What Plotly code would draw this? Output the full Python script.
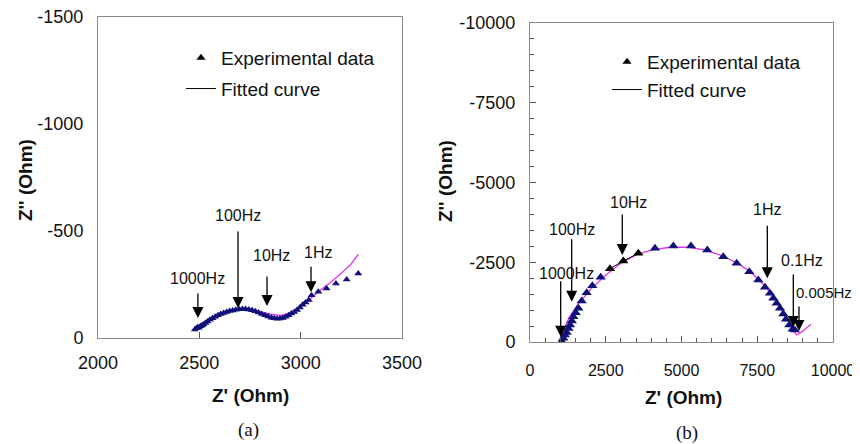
import plotly.graph_objects as go

# ---------------- Panel (a) data ----------------
a_exp_zr = [2478, 2485, 2492, 2498, 2505, 2512, 2520, 2530, 2540, 2552, 2565, 2578, 2592, 2606,
            2620, 2635, 2650, 2665, 2680, 2696, 2712, 2728, 2744, 2760, 2776, 2792, 2808, 2824,
            2840, 2856, 2870, 2884, 2898, 2912, 2926, 2940, 2954, 2968, 2982, 2996, 3010, 3024,
            3040, 3054, 3087, 3128, 3174, 3227, 3284]
a_exp_zi = [-40, -45, -50, -48, -55, -58, -63, -70, -77, -85, -92, -99, -106, -112,
            -117, -122, -126, -129, -132, -134, -135, -135, -133, -130, -125, -119, -112, -106,
            -100, -95, -92, -90, -91, -94, -99, -106, -114, -122, -131, -142, -155, -166,
            -178, -200, -216, -231, -255, -273, -301]
a_fit_zr = [2475, 2500, 2550, 2600, 2650, 2700, 2750, 2800, 2850, 2900, 2950, 3000, 3050,
            3100, 3150, 3200, 3250, 3285]
a_fit_zi = [-35, -52, -86, -112, -128, -135, -132, -123, -111, -106, -116, -145, -186,
            -225, -262, -302, -347, -392]
a_freq_labels = ["1000Hz", "100Hz", "10Hz", "1Hz"]
a_freq_zr = [2493, 2691, 2834, 3051]
a_freq_zi = [-93, -140, -149, -214]

# ---------------- Panel (b) data ----------------
b_exp_zr = [1050, 1100, 1150, 1210, 1270, 1320, 1380, 1430, 1510, 1595, 1705, 1870, 2057,
            2332, 4125, 4730, 5313, 5852, 6380, 6820, 7238, 7535, 7756, 7921, 8031, 8141,
            8251, 8360, 8449, 8559, 8669, 8740]
b_exp_zi = [-20, -120, -220, -300, -420, -530, -660, -790, -920, -1055, -1285, -1546, -1766,
            -2027, -2936, -3009, -3009, -2884, -2675, -2466, -2205, -1944, -1714, -1526, -1369,
            -1212, -1055, -878, -711, -533, -397, -380]
b_mark_zr = [2640, 3080, 3575]
b_mark_zi = [-2300, -2540, -2780]
b_fit_zr = [1000, 1100, 1300, 1600, 2000, 2500, 3000, 3500, 4000, 4600, 5200, 5800, 6400,
            6900, 7300, 7700, 8000, 8300, 8550, 8700, 8800, 9000, 9270]
b_fit_zi = [0, -380, -780, -1200, -1650, -2100, -2470, -2730, -2880, -2970, -2975, -2880,
            -2680, -2440, -2180, -1810, -1460, -1000, -600, -340, -220, -340, -560]
b_freq_labels = ["1000Hz", "100Hz", "10Hz", "1Hz", "0.1Hz", "0.005Hz"]
b_freq_zr = [1013, 1376, 3046, 7832, 8690, 8878]
b_freq_zi = [-166, -1263, -2727, -1997, -470, -345]

# ticks
a_xticks = [2000, 2500, 3000, 3500]
a_xtext = ["2000", "2500", "3000", "3500"]
a_yticks = [0, -500, -1000, -1500]
a_ytext = ["0", "-500", "-1000", "-1500"]
b_xticks = [0, 2500, 5000, 7500, 10000]
b_xtext = ["0", "2500", "5000", "7500", "10000"]
b_yticks = [0, -2500, -5000, -7500, -10000]
b_ytext = ["0", "-2500", "-5000", "-7500", "-10000"]

NAVY = "#10107a"
MAG = "#e632e6"
FONT = "Liberation Sans, Arial, sans-serif"

# page body has an 8px default margin: figure is sized/offset to fit the 860x444 window
OFF = 8
W, H = 860 - OFF, 444 - OFF


def PX(x):
    return (x - OFF) / W


def PY(y):
    return 1 - (y - OFF) / H


fig = go.Figure()

# Panel (a)
fig.add_trace(go.Scatter(x=a_fit_zr, y=a_fit_zi, mode="lines", line=dict(color=MAG, width=1.3),
                         showlegend=False, xaxis="x", yaxis="y"))
fig.add_trace(go.Scatter(x=a_exp_zr, y=a_exp_zi, mode="markers",
                         marker=dict(symbol="triangle-up", size=7, color=NAVY),
                         showlegend=False, xaxis="x", yaxis="y"))
fig.add_trace(go.Scatter(x=[None], y=[None], mode="markers", name="Experimental data",
                         marker=dict(symbol="triangle-up", size=8, color="black"),
                         legend="legend", legendgroup="a1", xaxis="x", yaxis="y"))
fig.add_trace(go.Scatter(x=[None], y=[None], mode="lines", name="Fitted curve",
                         line=dict(color="black", width=1),
                         legend="legend", legendgroup="a2", xaxis="x", yaxis="y"))

# Panel (b)
fig.add_trace(go.Scatter(x=b_fit_zr, y=b_fit_zi, mode="lines", line=dict(color=MAG, width=1.3),
                         showlegend=False, xaxis="x2", yaxis="y2"))
fig.add_trace(go.Scatter(x=b_exp_zr, y=b_exp_zi, mode="markers",
                         marker=dict(symbol="triangle-up", size=9, color=NAVY),
                         showlegend=False, xaxis="x2", yaxis="y2"))
fig.add_trace(go.Scatter(x=b_mark_zr, y=b_mark_zi, mode="lines+markers",
                         line=dict(color="black", width=1),
                         marker=dict(symbol="triangle-up", size=9, color="black"),
                         showlegend=False, xaxis="x2", yaxis="y2"))
fig.add_trace(go.Scatter(x=[None], y=[None], mode="markers", name="Experimental data",
                         marker=dict(symbol="triangle-up", size=8, color="black"),
                         legend="legend2", legendgroup="b1", xaxis="x2", yaxis="y2"))
fig.add_trace(go.Scatter(x=[None], y=[None], mode="lines", name="Fitted curve",
                         line=dict(color="black", width=1),
                         legend="legend2", legendgroup="b2", xaxis="x2", yaxis="y2"))

annotations = []
HZFONT = dict(family=FONT, size=16, color="#111")
# arrows + labels panel (a)
a_len = [26, 78, 31, 27]
a_lab_dx = [0, 0, 4, 7]
a_lab_gap = [14, 15, 20, 13]
for lab, zr, zi, ln, dx, gp in zip(a_freq_labels, a_freq_zr, a_freq_zi, a_len, a_lab_dx, a_lab_gap):
    annotations.append(dict(x=zr, y=zi, xref="x", yref="y", text="", showarrow=True,
                            arrowhead=2, arrowsize=1.7, arrowwidth=1.3, arrowcolor="black",
                            ax=0, ay=-ln))
    annotations.append(dict(x=zr, y=zi, xref="x", yref="y", text=lab, showarrow=False,
                            xanchor="center", yanchor="middle",
                            xshift=dx, yshift=ln + gp, font=HZFONT))
# arrows + labels panel (b)
b_len = [57, 64, 42, 54, 54, 26]
b_lab_dx = [6, 0, 6, 0, 9, 0]
b_lab_gap = [6, 8, 11, 15, 13, 12]
for lab, zr, zi, ln, dx, gp in zip(b_freq_labels, b_freq_zr, b_freq_zi, b_len, b_lab_dx, b_lab_gap):
    annotations.append(dict(x=zr, y=zi, xref="x2", yref="y2", text="", showarrow=True,
                            arrowhead=2, arrowsize=1.7, arrowwidth=1.3, arrowcolor="black",
                            ax=0, ay=-ln))
    if lab == "0.005Hz":
        annotations.append(dict(x=zr, y=zi, xref="x2", yref="y2", text=lab, showarrow=False,
                                xanchor="left", yanchor="middle", xshift=-4, yshift=38,
                                borderpad=0,
                                font=dict(family=FONT, size=15, color="#111")))
    else:
        annotations.append(dict(x=zr, y=zi, xref="x2", yref="y2", text=lab, showarrow=False,
                                xanchor="center", yanchor="middle",
                                xshift=dx, yshift=ln + gp, font=HZFONT))


# axis titles and panel labels
def ann(text, x, y, size, bold=True, angle=0, family=FONT):
    t = "<b>%s</b>" % text if bold else text
    annotations.append(dict(text=t, x=PX(x), y=PY(y), xref="paper", yref="paper",
                            xanchor="center", yanchor="middle",
                            showarrow=False, textangle=angle,
                            font=dict(family=family, size=size, color="#111")))


ann("Z' (Ohm)", 250, 395, 19)
ann("Z'' (Ohm)", 25, 180, 19, angle=-90)
ann("Z' (Ohm)", 683, 397, 19)
ann("Z'' (Ohm)", 445, 181, 19, angle=-90)
ann("(a)", 248, 430, 19, bold=False, family="Liberation Serif, Times New Roman, serif")
ann("(b)", 687, 433, 19, bold=False, family="Liberation Serif, Times New Roman, serif")

axis_common = dict(showline=True, mirror=True, linecolor="#8a8a8a", linewidth=1,
                   showgrid=False, zeroline=False, ticks="inside", tickcolor="#555",
                   automargin=False, tickmode="array", ticklabeloverflow="allow")

fig.update_layout(
    width=W, height=H,
    margin=dict(l=0, r=0, t=0, b=0, autoexpand=False),
    paper_bgcolor="white", plot_bgcolor="white",
    font=dict(family=FONT, color="#111"),
    xaxis=dict(domain=[PX(98), PX(402)], range=[2000, 3500], tickvals=a_xticks,
               ticktext=a_xtext, ticklen=6, tickfont=dict(size=18), ticklabelstandoff=8,
               anchor="y", **axis_common),
    yaxis=dict(domain=[PY(338), PY(17)], range=[0, -1500], tickvals=a_yticks,
               ticktext=a_ytext, ticklen=0, tickfont=dict(size=18), ticklabelstandoff=10,
               anchor="x", **axis_common),
    xaxis2=dict(domain=[PX(530), PX(833)], range=[0, 10000], tickvals=b_xticks,
                ticktext=b_xtext, ticklen=6, tickfont=dict(size=16), ticklabelstandoff=14,
                minor=dict(tickvals=list(range(500, 10000, 500)), ticklen=4, ticks="inside",
                           tickcolor="#555"),
                anchor="y2", **axis_common),
    yaxis2=dict(domain=[PY(342), PY(23)], range=[0, -10000], tickvals=b_yticks,
                ticktext=b_ytext, ticklen=6, tickfont=dict(size=18), ticklabelstandoff=10,
                minor=dict(tickvals=[-v for v in range(500, 10000, 500)], ticklen=4,
                           ticks="inside", tickcolor="#555"),
                anchor="x2", **axis_common),
    legend=dict(x=PX(181), y=PY(39), xanchor="left", yanchor="top",
                font=dict(family=FONT, size=19, color="#111"), bgcolor="rgba(0,0,0,0)",
                tracegroupgap=3),
    legend2=dict(x=PX(607), y=PY(43), xanchor="left", yanchor="top",
                 font=dict(family=FONT, size=19, color="#111"), bgcolor="rgba(0,0,0,0)",
                 tracegroupgap=0),
    annotations=annotations,
)

fig.write_html("out.html")
